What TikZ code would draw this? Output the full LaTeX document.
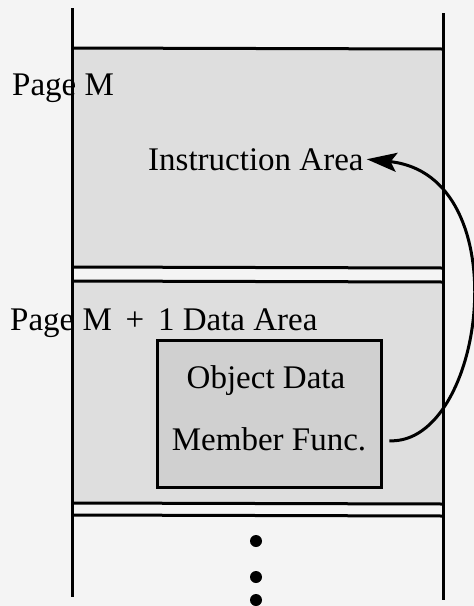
\documentclass[tikz,border=0pt]{standalone}
\usepackage{fontspec}
\setmainfont{Liberation Serif}
\usetikzlibrary{arrows.meta,positioning}
\definecolor{paper}{HTML}{F4F4F4}
\definecolor{pagefill}{HTML}{DEDEDE}
\definecolor{objfill}{HTML}{D0D0D0}

\begin{document}
\begin{tikzpicture}[x=1pt,y=-1pt,font=\fontsize{33}{40}\selectfont,
 area/.style={fill=pagefill,draw=none},
 rule/.style={line width=3pt,draw=black},
 objbox/.style={draw=black,line width=3pt,fill=objfill,minimum width=224pt,minimum height=147pt},
 lbl/.style={anchor=base west,inner sep=0pt},
 txt/.style={anchor=base,inner sep=3pt},
 dotmark/.style={circle,fill=black,inner sep=0pt,minimum size=12pt},
 ar/.style={-{Stealth[length=30pt,width=19pt,inset=6pt]},line width=3pt}]
\useasboundingbox (0,0) rectangle (474,606);
\fill[paper] (0,0) rectangle (474,606);
% the two pages of memory
\fill[area] (72,48) rectangle (443,267);
\fill[area] (72,281) rectangle (443,503);
\draw[rule] (72,48) -- (443,49);
\draw[rule] (72,267) -- (443,268);
\draw[rule] (72,281) -- (443,282);
\draw[rule] (72,503) -- (443,504);
\draw[rule] (72,515) -- (443,516);
\draw[rule] (72,8) -- (72,597);
\draw[rule] (443,13) -- (443,600);
% labels
\node[lbl] (pagem) at (12,95) {Page M};
\node[txt,anchor=base west] (instr) at (145,170) {Instruction Area};
\node[lbl] (pagem1) at (10,330) {Page M \,+\, 1 Data Area};
\node[objbox] (obj) at (269,413.5) {};
\node[txt] (objdata) at (266,388) {Object Data};
\node[txt] (member) at (269,450) {Member Func.};
% more pages
\foreach \y [count=\i] in {541,577,600}
 \node[dotmark] (dot\i) at (256,\y) {};
% call from the member function to the code
\coordinate (callfrom) at ([xshift=20pt,yshift=-2pt]member.east);
\draw[ar] (callfrom) .. controls (485,445) and (520,175) .. (instr.east);
\end{tikzpicture}
\end{document}
